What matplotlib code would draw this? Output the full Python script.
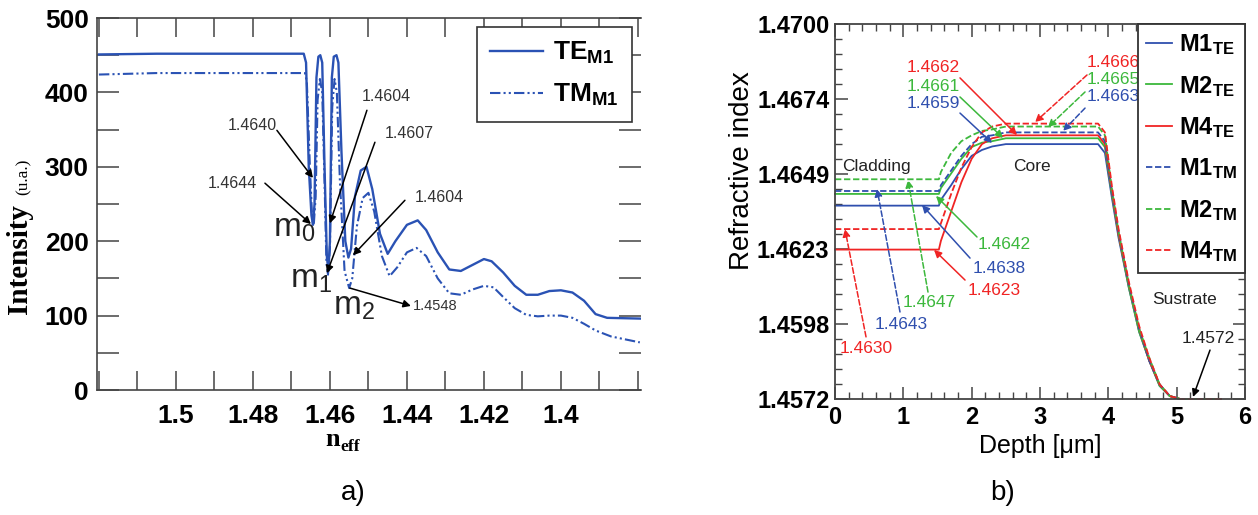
import numpy as np
import matplotlib
matplotlib.use('Agg')
import matplotlib.pyplot as plt
from matplotlib.ticker import FixedLocator, MultipleLocator

plt.rcParams['font.family'] = ['Liberation Sans', 'DejaVu Sans']
plt.rcParams['mathtext.fontset'] = 'custom'
plt.rcParams['mathtext.rm'] = 'Liberation Sans'
plt.rcParams['mathtext.bf'] = 'Liberation Sans:bold'
plt.rcParams['mathtext.it'] = 'Liberation Sans:italic'

# ---- panel a) data: transmitted intensity vs effective index ----
n_eff_te = [1.52, 1.505, 1.4668, 1.4662, 1.4655, 1.4648, 1.4644, 1.4640, 1.4635, 1.4630,
            1.4625, 1.4620, 1.4614, 1.4608, 1.4604, 1.4600, 1.4595, 1.4590, 1.4583, 1.4578,
            1.4570, 1.4560, 1.4552, 1.4545, 1.4535, 1.4520, 1.4505, 1.4490, 1.4470, 1.4450,
            1.4430, 1.4400, 1.4372, 1.4350, 1.4320, 1.4290, 1.4260, 1.4230, 1.4200, 1.4180,
            1.4150, 1.4120, 1.4090, 1.4060, 1.4030, 1.4000, 1.3970, 1.3940, 1.3910, 1.3880,
            1.3795]
intensity_te = [451, 452, 452, 440, 300, 235, 222, 250, 420, 448,
                450, 440, 300, 180, 160, 200, 420, 448, 450, 440,
                320, 200, 178, 190, 260, 295, 300, 270, 210, 183,
                200, 222, 228, 215, 185, 162, 160, 168, 176, 173,
                158, 140, 128, 128, 133, 134, 131, 120, 102, 97,
                96]

n_eff_tm = [1.52, 1.505, 1.4665, 1.4660, 1.4652, 1.4646, 1.4642, 1.4637, 1.4632, 1.4626,
            1.4620, 1.4614, 1.4609, 1.4605, 1.4600, 1.4594, 1.4588, 1.4582, 1.4574, 1.4562,
            1.4550, 1.4542, 1.4530, 1.4515, 1.4500, 1.4485, 1.4465, 1.4445, 1.4425, 1.4400,
            1.4375, 1.4350, 1.4320, 1.4290, 1.4260, 1.4230, 1.4200, 1.4175, 1.4150, 1.4120,
            1.4090, 1.4060, 1.4030, 1.4000, 1.3970, 1.3940, 1.3910, 1.3870, 1.3795]
intensity_tm = [424, 426, 426, 415, 300, 228, 222, 260, 390, 418,
                400, 280, 170, 155, 190, 380, 418, 400, 280, 160,
                137, 150, 220, 258, 265, 240, 180, 153, 165, 185,
                191, 180, 150, 130, 128, 135, 140, 138, 125, 110,
                101, 99, 100, 100, 97, 89, 80, 72, 64]

a_xticks = [1.5, 1.48, 1.46, 1.44, 1.42, 1.4]
a_xticklabels = ['1.5', '1.48', '1.46', '1.44', '1.42', '1.4']
a_yticks = [0, 100, 200, 300, 400, 500]

# ---- panel b) data: refractive index profiles vs depth ----
depth = [0, 1.52, 1.55, 1.7, 1.85, 2.0, 2.15, 2.3, 2.5, 3.0, 3.5,
         3.85, 3.95, 4.05, 4.15, 4.3, 4.45, 4.6, 4.75, 4.9, 5.05, 5.65]
m1_te = [1.4638, 1.4638, 1.4640, 1.4645, 1.46505, 1.4655, 1.4657, 1.46582, 1.4659, 1.4659, 1.4659,
         1.4659, 1.4656, 1.4641, 1.4627, 1.4610, 1.4595, 1.4585, 1.45765, 1.4573, 1.4572, 1.4572]
m2_te = [1.4642, 1.4642, 1.4644, 1.4649, 1.4654, 1.4658, 1.46595, 1.4660, 1.4661, 1.4661, 1.4661,
         1.4661, 1.4658, 1.4642, 1.4628, 1.4610, 1.4595, 1.4585, 1.45765, 1.4573, 1.4572, 1.4572]
m4_te = [1.4623, 1.4623, 1.4626, 1.4636, 1.4646, 1.4654, 1.4659, 1.4661, 1.4662, 1.4662, 1.4662,
         1.4662, 1.4659, 1.4643, 1.4628, 1.4611, 1.4596, 1.4585, 1.4577, 1.4573, 1.4572, 1.4572]
m1_tm = [1.4643, 1.4643, 1.4645, 1.4650, 1.4655, 1.4659, 1.46615, 1.4662, 1.4663, 1.4663, 1.4663,
         1.4663, 1.4660, 1.4643, 1.4629, 1.4611, 1.4596, 1.4585, 1.4577, 1.4573, 1.4572, 1.4572]
m2_tm = [1.4647, 1.4647, 1.46495, 1.4656, 1.4660, 1.4662, 1.46635, 1.4664, 1.4665, 1.4665, 1.4665,
         1.4665, 1.4662, 1.4644, 1.4629, 1.4611, 1.4596, 1.4586, 1.4577, 1.4573, 1.4572, 1.4572]
m4_tm = [1.4630, 1.4630, 1.4632, 1.4642, 1.4651, 1.4658, 1.4663, 1.4665, 1.4666, 1.4666, 1.4666,
         1.4666, 1.4663, 1.4645, 1.4630, 1.4612, 1.4597, 1.4586, 1.4577, 1.4573, 1.4572, 1.4572]

b_yticklabels = ['1.4572', '1.4598', '1.4623', '1.4649', '1.4674', '1.4700']

BLUE = '#2f4fae'
GREEN = '#3cb83c'
RED = '#f02424'
LBLUE = '#2a52b4'

fig = plt.figure(figsize=(12.58, 5.15), dpi=100)

# ================= panel a =================
ax = fig.add_axes([97 / 1258, 125 / 515, 544 / 1258, 372 / 515])
ax.plot(n_eff_te, intensity_te, color=LBLUE, lw=1.7, label=r'$\mathbf{TE}_{\mathbf{M1}}$')
ax.plot(n_eff_tm, intensity_tm, color=LBLUE, lw=1.5, ls=(0, (5, 1.5, 1, 1.5, 1, 1.5)),
        label=r'$\mathbf{TM}_{\mathbf{M1}}$')
ax.set_xlim(1.5205, 1.3792)
ax.set_ylim(0, 500)
ax.xaxis.set_major_locator(FixedLocator(a_xticks))
ax.set_xticklabels(a_xticklabels)
ax.xaxis.set_minor_locator(MultipleLocator(0.01))
ax.set_yticks(a_yticks)
ax.yaxis.set_minor_locator(MultipleLocator(50))
ax.tick_params(axis='x', which='both', direction='in', top=True, bottom=True,
               length=14, width=1.1, color='#444444', pad=10)
ax.tick_params(axis='y', which='both', direction='in', left=True, right=True,
               length=16, width=1.1, color='#444444', pad=6)
for lab in ax.get_xticklabels() + ax.get_yticklabels():
    lab.set_fontsize(19)
    lab.set_fontweight('bold')
for sp in ax.spines.values():
    sp.set_color('#444444')
    sp.set_linewidth(1.2)
ax.spines['right'].set_visible(False)

leg = ax.legend(loc='upper right', bbox_to_anchor=(0.983, 0.976), fontsize=19,
                handlelength=2.0, fancybox=False, framealpha=1, edgecolor='#333333',
                borderpad=0.5, labelspacing=0.6, handletextpad=0.4, borderaxespad=0)
leg.get_frame().set_linewidth(1.2)

a_kw = dict(arrowstyle='-|>', color='black', lw=1.1, mutation_scale=11,
            shrinkA=0, shrinkB=0)
afs = 11.5
ax.text(1.47377, 356, '1.4640', ha='right', va='center', fontsize=afs, color='#333333')
ax.annotate('', xy=(1.46441, 285), xytext=(1.47377, 349), arrowprops=a_kw)
ax.text(1.47896, 278, '1.4644', ha='right', va='center', fontsize=afs, color='#333333')
ax.annotate('', xy=(1.46493, 223), xytext=(1.47688, 278), arrowprops=a_kw)
ax.text(1.45169, 394, '1.4604', ha='left', va='center', fontsize=afs, color='#333333')
ax.annotate('', xy=(1.4600, 224), xytext=(1.45039, 376), arrowprops=a_kw)
ax.text(1.44572, 345, '1.4607', ha='left', va='center', fontsize=afs, color='#333333')
ax.annotate('', xy=(1.46078, 157), xytext=(1.44831, 333), arrowprops=a_kw)
ax.text(1.43793, 259, '1.4604', ha='left', va='center', fontsize=afs, color='#333333')
ax.annotate('', xy=(1.45403, 181), xytext=(1.44052, 255), arrowprops=a_kw)
ax.text(1.43844, 113, '1.4548', ha='left', va='center', fontsize=10.5, color='#333333')
ax.annotate('', xy=(1.43896, 113), xytext=(1.45481, 137), arrowprops=a_kw)
ax.text(1.4748, 206, r'm$_0$', ha='left', va='baseline', fontsize=24, color='#222222')
ax.text(1.47039, 137, r'm$_1$', ha='left', va='baseline', fontsize=24, color='#222222')
ax.text(1.45922, 101, r'm$_2$', ha='left', va='baseline', fontsize=24, color='#222222')

fig.text(20 / 1258, 1 - 259 / 515, 'Intensity', rotation=90, ha='center', va='center',
         family='Liberation Serif', fontweight='bold', fontsize=21)
fig.text(24 / 1258, 1 - 177 / 515, '(u.a.)', rotation=90, ha='center', va='center',
         family='Liberation Serif', fontsize=12.5)
fig.text(333 / 1258, 1 - 440 / 515, 'n', ha='center', va='center',
         family='Liberation Serif', fontweight='bold', fontsize=19)
fig.text(340 / 1258, 1 - 447 / 515, 'eff', ha='left', va='center',
         family='Liberation Serif', fontweight='bold', fontsize=12.5)

# ================= panel b =================
bx = fig.add_axes([835 / 1258, 116 / 515, 410 / 1258, 375 / 515])
series = [(m1_te, BLUE, '-', r'$\mathbf{M1}_{\mathbf{TE}}$'),
          (m2_te, GREEN, '-', r'$\mathbf{M2}_{\mathbf{TE}}$'),
          (m4_te, RED, '-', r'$\mathbf{M4}_{\mathbf{TE}}$'),
          (m1_tm, BLUE, (0, (3.5, 1.5)), r'$\mathbf{M1}_{\mathbf{TM}}$'),
          (m2_tm, GREEN, (0, (3.5, 1.5)), r'$\mathbf{M2}_{\mathbf{TM}}$'),
          (m4_tm, RED, (0, (3.5, 1.5)), r'$\mathbf{M4}_{\mathbf{TM}}$')]
for vals, col, ls, lab in series:
    bx.plot(depth, vals, color=col, ls=ls, lw=1.3, label=lab, clip_on=False)

bx.set_xlim(0, 6)
bx.set_ylim(1.4572, 1.4700)
bx.set_yticks(np.linspace(1.4572, 1.4700, 6))
bx.set_yticklabels(b_yticklabels)
bx.yaxis.set_minor_locator(FixedLocator(np.linspace(1.4572, 1.4700, 26)))
bx.xaxis.set_major_locator(MultipleLocator(1))
bx.xaxis.set_minor_locator(MultipleLocator(0.2))
bx.tick_params(which='both', direction='in', top=True, right=True, color='#444444')
bx.tick_params(which='major', length=9, width=1.1)
bx.tick_params(which='minor', length=5, width=1.0)
bx.tick_params(axis='y', pad=4)
bx.tick_params(axis='x', pad=5)
for lab in bx.get_xticklabels() + bx.get_yticklabels():
    lab.set_fontsize(17)
    lab.set_fontweight('bold')
for sp in bx.spines.values():
    sp.set_color('#444444')
    sp.set_linewidth(1.3)
bx.set_xlabel('Depth [μm]', fontsize=18, labelpad=4)
fig.text(742 / 1258, 1 - 171 / 515, 'Refractive index', rotation=90,
         ha='center', va='center', fontsize=20)

leg2 = bx.legend(loc='upper right', bbox_to_anchor=(1.0, 1.0), fontsize=17,
                 handlelength=1.1, fancybox=False, framealpha=1, edgecolor='#333333',
                 borderpad=0.35, labelspacing=0.7, handletextpad=0.3, borderaxespad=0)
leg2.get_frame().set_linewidth(1.3)

bfs = 12.5
def note(x, y, s, col, ha='left'):
    bx.text(x, y, s, ha=ha, va='center', fontsize=bfs, color=col)

def arrow(p0, p1, col, dashed=False):
    bx.annotate('', xy=p1, xytext=p0,
                arrowprops=dict(arrowstyle='-|>', color=col, lw=1.1, mutation_scale=11,
                                shrinkA=0, shrinkB=0,
                                linestyle='--' if dashed else '-'))

note(1.829, 1.46850, '1.4662', RED, 'right')
arrow((1.829, 1.46816), (2.664, 1.46621), RED)
note(1.829, 1.46788, '1.4661', GREEN, 'right')
arrow((1.829, 1.46751), (2.459, 1.46611), GREEN)
note(1.829, 1.46730, '1.4659', BLUE, 'right')
arrow((1.829, 1.46696), (2.298, 1.46594), BLUE)

note(3.688, 1.46867, '1.4666', RED)
arrow((3.688, 1.46826), (2.927, 1.46665), RED, True)
note(3.688, 1.46809, '1.4665', GREEN)
arrow((3.659, 1.46768), (3.117, 1.46648), GREEN, True)
note(3.688, 1.46751, '1.4663', BLUE)
arrow((3.659, 1.46713), (3.337, 1.46635), BLUE, True)

note(0.10, 1.46512, 'Cladding', '#222222')
note(2.605, 1.46512, 'Core', '#222222')
note(4.639, 1.46058, 'Sustrate', '#222222')
note(5.078, 1.45928, '1.4572', '#222222')
arrow((5.488, 1.45887), (5.239, 1.45727), 'black')

note(2.093, 1.46246, '1.4642', GREEN)
arrow((2.078, 1.46273), (1.478, 1.46413), GREEN)
note(2.020, 1.46167, '1.4638', BLUE)
arrow((1.976, 1.46201), (1.273, 1.46382), BLUE)
note(1.946, 1.46089, '1.4623', RED)
arrow((1.903, 1.46126), (1.449, 1.46229), RED)
note(0.995, 1.46051, '1.4647', GREEN)
arrow((1.361, 1.46085), (1.068, 1.46468), GREEN, True)
note(0.585, 1.45973, '1.4643', BLUE)
arrow((0.951, 1.46017), (0.615, 1.46437), BLUE, True)
note(0.073, 1.45891, '1.4630', RED)
arrow((0.454, 1.45932), (0.146, 1.46300), RED, True)

fig.text(353 / 1258, 1 - 493 / 515, 'a)', ha='center', va='center', fontsize=20)
fig.text(1003 / 1258, 1 - 493 / 515, 'b)', ha='center', va='center', fontsize=20)

fig.savefig('out.png', dpi=100, facecolor='white')
